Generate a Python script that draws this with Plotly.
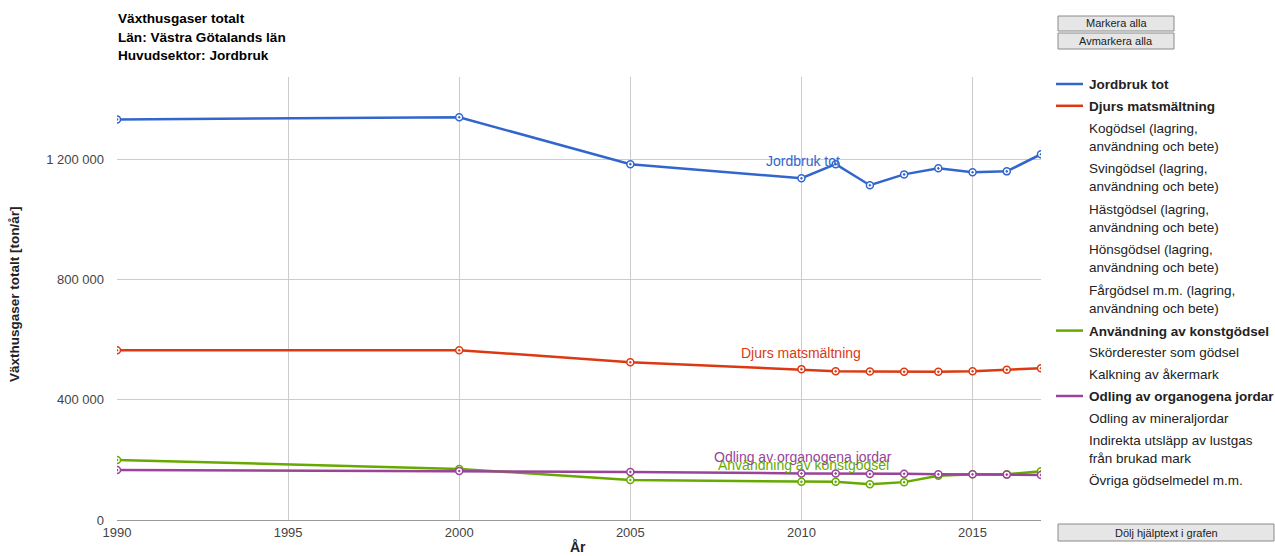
import plotly.graph_objects as go

years = [1990, 2000, 2005, 2010, 2011, 2012, 2013, 2014, 2015, 2016, 2017]
jordbruk_tot = [1333000, 1340000, 1184000, 1137000, 1184000, 1114000, 1150000, 1170000, 1157000, 1160000, 1217000]
djurs = [565000, 565000, 525000, 502000, 495000, 494000, 493000, 493000, 495000, 500000, 505000]
konstgodsel = [200000, 170000, 133000, 127000, 127000, 119000, 126000, 147000, 152000, 152000, 162000]
organogena = [166000, 163000, 160000, 155000, 155000, 153000, 154000, 152000, 152000, 151000, 150000]

series_names = ["Jordbruk tot", "Djurs matsmältning", "Användning av konstgödsel", "Odling av organogena jordar"]
series_values = [jordbruk_tot, djurs, konstgodsel, organogena]
series_colors = ["#3366cc", "#dc3912", "#66aa00", "#994499"]

y_tickvals = [0, 400000, 800000, 1200000]
y_ticktext = ["0", "400 000", "800 000", "1 200 000"]
x_tickvals = [1990, 1995, 2000, 2005, 2010, 2015]

legend_items = [
    ("Jordbruk tot", True, "#3366cc"),
    ("Djurs matsmältning", True, "#dc3912"),
    ("Kogödsel (lagring,<br>användning och bete)", False, None),
    ("Svingödsel (lagring,<br>användning och bete)", False, None),
    ("Hästgödsel (lagring,<br>användning och bete)", False, None),
    ("Hönsgödsel (lagring,<br>användning och bete)", False, None),
    ("Fårgödsel m.m. (lagring,<br>användning och bete)", False, None),
    ("Användning av konstgödsel", True, "#66aa00"),
    ("Skörderester som gödsel", False, None),
    ("Kalkning av åkermark", False, None),
    ("Odling av organogena jordar", True, "#994499"),
    ("Odling av mineraljordar", False, None),
    ("Indirekta utsläpp av lustgas<br>från brukad mark", False, None),
    ("Övriga gödselmedel m.m.", False, None),
]

W, H = 1275, 556
L, R, T, B = 117, 1041, 77, 520  # plot area in pixels
FONT = "Liberation Sans, Arial, sans-serif"

def px(x):
    return (x - L) / (R - L)

def py(y):
    return (B - y) / (B - T)

fig = go.Figure()
for name, vals, col in zip(series_names, series_values, series_colors):
    fig.add_trace(go.Scatter(
        x=years, y=vals, mode="lines+markers", name=name,
        line=dict(color=col, width=2.5),
        marker=dict(symbol="circle-dot", size=7, color="white",
                    line=dict(color=col, width=1.5)),
        showlegend=False, hoverinfo="x+y+name"))

label_pos = [(2010.05, 1193000), (2010.0, 555000), (2010.05, 183000), (2010.05, 209000)]
annotations = []
for name, col, (lx, ly) in zip(series_names, series_colors, label_pos):
    annotations.append(dict(x=lx, y=ly, xref="x", yref="y", text=name, showarrow=False,
                            font=dict(family=FONT, size=14, color=col), xanchor="center", yanchor="middle"))

for i, t in enumerate(["Växthusgaser totalt", "Län: Västra Götalands län", "Huvudsektor: Jordbruk"]):
    annotations.append(dict(x=px(116), y=py(19 + 18 * i), xref="paper", yref="paper", text="<b>" + t + "</b>",
                            showarrow=False, xanchor="left", yanchor="middle",
                            font=dict(family=FONT, size=13.6, color="#000")))

shapes = []
y = 84
for text, bold, col in legend_items:
    nlines = text.count("<br>") + 1
    if col:
        shapes.append(dict(type="line", xref="paper", yref="paper", x0=px(1056), x1=px(1083),
                           y0=py(y), y1=py(y), line=dict(color=col, width=2.5)))
    annotations.append(dict(x=px(1087), y=py(y - 9), xref="paper", yref="paper",
                            text=("<b>" + text + "</b>") if bold else text, showarrow=False,
                            xanchor="left", yanchor="top", align="left",
                            font=dict(family=FONT, size=13.5, color="#222")))
    y += 20.3 * nlines + (1.5 if nlines == 1 else 0)

buttons = [("Markera alla", 1058, 1174, 16, 31), ("Avmarkera alla", 1058, 1174, 33, 49),
           ("Dölj hjälptext i grafen", 1058, 1274, 524, 541)]
for text, x0, x1, y0, y1 in buttons:
    shapes.append(dict(type="rect", xref="paper", yref="paper", x0=px(x0), x1=px(x1), y0=py(y0), y1=py(y1),
                       fillcolor="#e6e6e6", line=dict(color="#8a8a8a", width=1)))
    annotations.append(dict(x=px((x0 + x1) / 2), y=py((y0 + y1) / 2), xref="paper", yref="paper",
                            text=text, showarrow=False, xanchor="center", yanchor="middle",
                            font=dict(family=FONT, size=11, color="#222")))

annotations.append(dict(x=px(14), y=py(294), xref="paper", yref="paper", text="<b>Växthusgaser totalt [ton/år]</b>",
                        showarrow=False, textangle=-90, xanchor="center", yanchor="middle",
                        font=dict(family=FONT, size=13.5, color="#222")))
annotations.append(dict(x=px(578), y=py(547), xref="paper", yref="paper", text="<b>År</b>",
                        showarrow=False, xanchor="center", yanchor="middle",
                        font=dict(family=FONT, size=14, color="#222")))

fig.update_layout(
    width=W, height=H, autosize=False,
    margin=dict(l=L, r=W - R, t=T, b=H - B, pad=0),
    paper_bgcolor="white", plot_bgcolor="white",
    font=dict(family=FONT, size=13, color="#444"),
    annotations=annotations, shapes=shapes, showlegend=False,
    xaxis=dict(range=[1990, 2017], tickvals=x_tickvals, ticktext=[str(v) for v in x_tickvals],
               showgrid=True, gridcolor="#cccccc", gridwidth=1, zeroline=False,
               showline=True, linecolor="#999999", linewidth=1, ticks="", fixedrange=True,
               tickfont=dict(family=FONT, size=13, color="#444")),
    yaxis=dict(range=[0, 1474000], tickvals=y_tickvals, ticktext=y_ticktext,
               showgrid=True, gridcolor="#cccccc", gridwidth=1, zeroline=False,
               showline=False, ticks="", fixedrange=True, ticklabelstandoff=12,
               tickfont=dict(family=FONT, size=13, color="#444")),
)
fig.write_html("out.html", config={"displayModeBar": False},
               post_script="document.body.style.margin='0';document.documentElement.style.overflow='hidden';")
